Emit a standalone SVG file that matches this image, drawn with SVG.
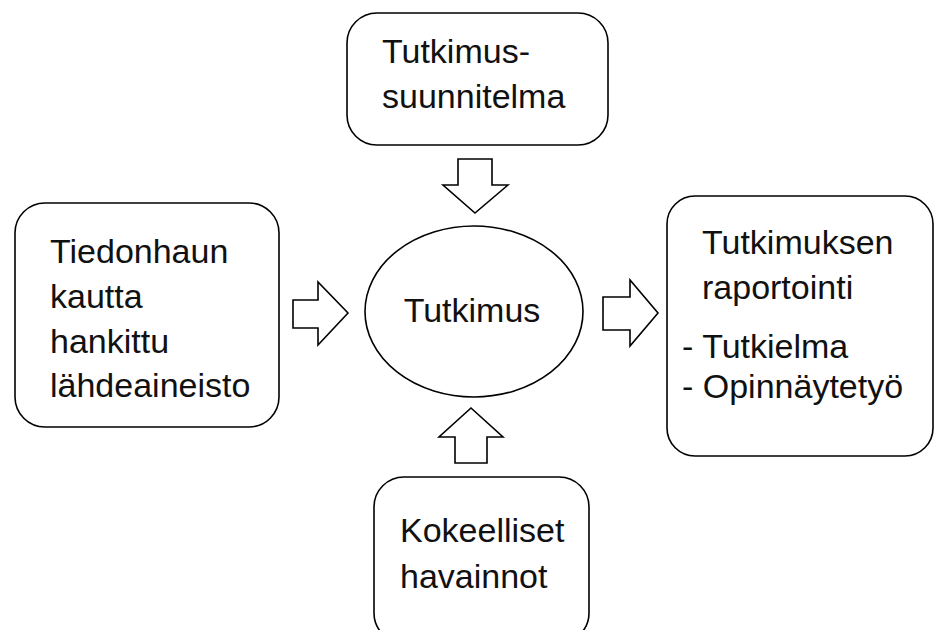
<svg xmlns="http://www.w3.org/2000/svg" width="935" height="630" viewBox="0 0 935 630">
<style>
.box{fill:#fff;stroke:#000;stroke-width:1.6}
.arr{fill:#fff;stroke:#000;stroke-width:1.6;stroke-linejoin:miter}
.t{font-family:"Liberation Sans",Arial,sans-serif;font-size:34px;fill:#111}
</style>
<rect width="935" height="630" fill="#fff"/>
<g id="plan">
<rect class="box" x="347" y="13" width="261" height="132" rx="30" ry="30"/>
<text class="t" x="382" y="63">Tutkimus-</text>
<text class="t" x="382" y="108">suunnitelma</text>
</g>
<g id="source">
<rect class="box" x="15" y="203" width="264" height="224" rx="30" ry="30"/>
<text class="t" x="50" y="263">Tiedonhaun</text>
<text class="t" x="50" y="308">kautta</text>
<text class="t" x="50" y="353">hankittu</text>
<text class="t" x="50" y="397">lähdeaineisto</text>
</g>
<g id="research">
<ellipse class="box" cx="474" cy="311.5" rx="109" ry="85.5"/>
<text class="t" x="472" y="322" text-anchor="middle">Tutkimus</text>
</g>
<g id="report">
<rect class="box" x="667" y="196" width="266" height="260" rx="28" ry="28"/>
<text class="t" x="702" y="254">Tutkimuksen</text>
<text class="t" x="702" y="299">raportointi</text>
<text class="t" x="682" y="358">- Tutkielma</text>
<text class="t" x="682" y="398">- Opinnäytetyö</text>
</g>
<g id="observations">
<rect class="box" x="374" y="477" width="215" height="166" rx="30" ry="30"/>
<text class="t" x="400" y="542">Kokeelliset</text>
<text class="t" x="400" y="588">havainnot</text>
</g>
<g id="connectors">
<polygon class="arr" points="458,159 492,159 492,185 508,185 475,213 443,185 458,185"/>
<polygon class="arr" points="293,300 318,300 318,282 348,313 318,345 318,328 293,328"/>
<polygon class="arr" points="603,297 630,297 630,280 658,313 630,346 630,330 603,330"/>
<polygon class="arr" points="455,463 455,437 439,437 471,408 503,437 487,437 487,463"/>
</g>
</svg>
